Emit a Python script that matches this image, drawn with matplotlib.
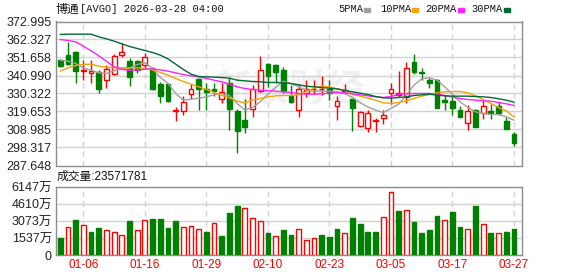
import matplotlib.pyplot as plt
import numpy as np
import pandas as pd
from matplotlib.patches import Rectangle

plt.rcParams['font.family'] = ['Liberation Sans', 'Noto Sans CJK SC']

# trading days 2025-12-31 .. 2026-03-27 (US market holidays removed)
days = pd.bdate_range('2025-12-31', '2026-03-27')
days = days.drop(pd.to_datetime(['2026-01-01', '2026-01-19', '2026-02-16']))
date_labels = [d.strftime('%m-%d') for d in days]
shown_dates = ['01-06', '01-16', '01-29', '02-10', '02-23', '03-05', '03-17', '03-27']

opens = [350.1, 353.05, 354.8, 343.8, 342.2, 342.8, 338.6, 341.6, 353.4, 349.5, 349.3, 347.5,
         345.1, 335.9, 335.9, 320.0, 320.0, 330.1, 338.8, 332.7, 332.7, 326.8, 336.7, 319.9,
         314.5, 320.9, 331.7, 347.7, 347.1, 344.2, 328.7, 320.4, 330.7, 332.7, 332.9, 332.7,
         323.2, 331.7, 326.8, 311.2, 309.6, 314.1, 315.9, 330.7, 329.3, 328.0, 348.7, 343.0,
         338.2, 338.2, 326.4, 325.8, 320.4, 313.1, 320.4, 318.5, 320.0, 322.8, 313.9, 306.6]
highs = [350.7, 360.95, 355.4, 350.1, 350.1, 344.2, 347.5, 354.0, 360.0, 351.5, 350.1, 354.6,
         346.1, 337.2, 336.7, 322.4, 328.7, 335.9, 339.8, 336.7, 336.3, 336.7, 339.8, 320.9,
         326.8, 335.3, 352.5, 348.5, 348.1, 346.1, 335.3, 335.9, 338.2, 338.6, 340.6, 338.6,
         328.7, 335.7, 327.0, 319.7, 320.4, 315.9, 320.4, 336.7, 343.6, 349.1, 353.6, 345.7,
         339.8, 338.8, 329.3, 328.0, 322.8, 323.4, 321.4, 326.4, 324.0, 325.4, 316.5, 307.6]
lows = [346.1, 347.1, 336.7, 338.2, 336.3, 330.9, 333.7, 341.2, 351.7, 334.9, 342.2, 345.1,
        332.3, 324.8, 325.2, 314.1, 317.5, 327.0, 320.4, 320.4, 328.7, 324.4, 308.6, 295.2,
        307.0, 316.5, 331.3, 334.3, 336.3, 330.7, 324.8, 316.5, 328.0, 329.9, 329.3, 326.4,
        314.9, 329.9, 308.2, 310.2, 307.6, 307.6, 312.0, 324.0, 328.0, 324.4, 341.6, 338.6,
        333.3, 321.6, 320.4, 317.5, 316.1, 308.6, 310.2, 315.1, 315.3, 317.5, 309.2, 299.1]
closes = [346.7, 348.1, 343.8, 344.2, 343.6, 333.1, 345.1, 352.5, 354.8, 340.2, 344.2, 351.7,
          332.9, 328.8, 325.8, 320.4, 325.0, 332.7, 333.0, 331.5, 331.7, 331.1, 320.9, 308.2,
          310.6, 332.7, 344.2, 340.8, 343.2, 331.7, 325.4, 332.7, 333.0, 333.2, 333.1, 330.7,
          325.8, 332.1, 321.8, 319.5, 318.5, 314.5, 317.5, 332.7, 330.7, 345.7, 343.2, 342.2,
          336.7, 322.0, 325.4, 321.8, 316.5, 319.9, 310.6, 322.8, 318.7, 318.9, 309.4, 301.1]
# volume in 万 shares
volume = [1530, 2490, 3150, 2670, 2100, 2430, 2220, 2070, 1770, 3060, 2220, 3120,
          3240, 3240, 2430, 3060, 2490, 2580, 2310, 2070, 2850, 1710, 3780, 4410,
          4290, 3300, 3030, 1980, 1680, 2250, 1800, 2310, 1350, 1530, 1800, 1620,
          2340, 1980, 3330, 2790, 2070, 2070, 3480, 5730, 3960, 4110, 2970, 1980,
          2250, 3510, 3120, 3870, 2520, 2310, 4410, 2760, 1980, 1980, 2070, 2357]

ma5 = [350.08, 349.49, 348.11, 345.54, 344.16, 342.58, 342.18, 343.76, 345.34, 345.34, 347.51, 348.50,
       345.14, 339.81, 336.45, 330.33, 326.38, 326.97, 327.56, 328.35, 329.54, 330.33, 329.14, 324.40,
       320.65, 322.03, 325.39, 329.93, 333.88, 337.64, 336.25, 334.28, 332.30, 331.71, 331.71, 331.71,
       331.31, 330.33, 327.96, 324.80, 322.42, 320.45, 319.07, 321.44, 324.00, 329.34, 335.27, 339.02,
       339.61, 338.23, 334.28, 329.93, 325.39, 322.03, 319.46, 318.47, 317.88, 317.88, 316.50, 314.52]
ma10 = [343.56, 345.54, 346.92, 347.51, 347.71, 346.53, 345.93, 345.54, 345.54, 345.54, 345.54, 345.14,
        344.35, 342.77, 341.19, 339.22, 337.44, 335.86, 334.28, 332.70, 330.92, 329.34, 327.76, 325.78,
        324.80, 326.38, 327.36, 328.35, 328.94, 329.14, 329.14, 329.54, 331.31, 333.49, 334.67, 334.28,
        333.09, 332.10, 329.93, 328.75, 327.56, 326.38, 324.80, 324.40, 324.99, 325.98, 327.36, 328.75,
        329.73, 330.72, 331.31, 331.51, 331.51, 330.72, 328.94, 326.77, 324.40, 322.03, 320.05, 316.50]
ma20 = [362.33, 361.74, 360.95, 358.38, 355.61, 352.65, 349.49, 346.13, 344.55, 344.16, 344.16, 344.75,
        344.95, 344.35, 343.56, 342.58, 341.59, 340.80, 340.20, 339.22, 338.23, 337.24, 335.86, 334.28,
        333.29, 332.70, 332.30, 331.91, 331.71, 331.31, 330.92, 330.33, 329.93, 329.93, 330.13, 330.52,
        330.92, 330.72, 330.13, 329.54, 328.94, 328.35, 327.96, 328.55, 329.73, 330.13, 330.33, 330.33,
        330.33, 329.93, 329.14, 328.15, 327.36, 326.77, 326.38, 325.98, 325.78, 324.99, 324.20, 323.21]
ma30 = [365.29, 365.49, 365.49, 365.49, 365.49, 363.91, 362.73, 361.34, 359.76, 358.18, 357.00, 355.81,
        354.63, 353.05, 350.87, 347.71, 344.55, 341.79, 340.40, 340.20, 340.01, 339.81, 339.41, 338.23,
        337.83, 337.44, 337.24, 336.85, 336.85, 336.65, 336.25, 335.46, 334.67, 334.28, 333.88, 333.49,
        333.09, 332.10, 331.31, 330.52, 329.73, 328.55, 327.76, 327.56, 327.96, 328.35, 329.14, 329.54,
        329.93, 329.34, 328.94, 328.75, 328.75, 328.75, 328.55, 328.35, 327.96, 327.17, 326.38, 325.19]

price_ticks = ['287.648', '298.317', '308.985', '319.653', '330.322', '340.990', '351.658', '362.327', '372.995']
vol_ticks = ['0', '1537万', '3073万', '4610万', '6147万']
last_volume = 23571781

RED = '#ff0000'
GREEN = '#008000'
FRAME = '#8c8c8c'
GRID = '#d2d2d2'
ma_colors = ['#a0a0a0', '#f5a300', '#ff22ff', '#006a35']

W, H = 578, 276
fig = plt.figure(figsize=(W / 100, H / 100), dpi=100)
ax = fig.add_axes([56 / W, 1 - 165.5 / H, 466 / W, 144 / H])
axv = fig.add_axes([56 / W, 1 - 255 / H, 466 / W, 68 / H])

x = np.arange(len(closes))
o = np.array(opens)
c = np.array(closes)
up = c > o
tick_pos = [date_labels.index(d) for d in shown_dates]

for a in (ax, axv):
    a.set_xlim(-0.56, 60.05)
    for s in a.spines.values():
        s.set_color(FRAME)
        s.set_linewidth(1)
    for p in tick_pos:
        a.axvline(p, color=GRID, lw=1, ls=(0, (4, 3)), zorder=0)
    a.tick_params(length=0, labelsize=9, labelcolor='#222222', pad=3)

# watermark
ax.text(0.50, 0.52, '新浪财经', transform=ax.transAxes, fontsize=27, color='#f0f0f0',
        ha='center', va='center', fontweight='bold', zorder=0)

# price panel
ax.set_ylim(287.648, 372.995)
yt = np.linspace(287.648, 372.995, 9)
ax.set_yticks(yt)
ax.set_yticklabels(price_ticks)
for v in yt[1:-1]:
    ax.axhline(v, color=GRID, lw=1, zorder=0)
ax.set_xticks(tick_pos)
ax.set_xticklabels([])

for ma, col in zip([ma5, ma10, ma20, ma30], ma_colors):
    ax.plot(x, ma, color=col, lw=1, zorder=4)

cols = np.where(up, RED, GREEN)
ax.vlines(x, lows, highs, colors=cols, lw=1, zorder=2)
body = np.maximum(np.abs(c - o), 0.12)
ax.bar(x, body, bottom=np.minimum(o, c), width=0.62,
       color=np.where(up, 'white', GREEN), edgecolor=cols, lw=1, zorder=3)

# volume panel
axv.set_ylim(0, 6147)
vt = np.linspace(0, 6147, 5)
axv.set_yticks(vt)
axv.set_yticklabels(vol_ticks)
for v in vt[1:-1]:
    axv.axhline(v, color=GRID, lw=1, zorder=0)
vol_up = np.r_[False, c[1:] > c[:-1]]
vcols = np.where(vol_up, RED, GREEN)
axv.bar(x, volume, width=0.62, color=np.where(vol_up, 'white', GREEN),
        edgecolor=vcols, lw=1, zorder=3)
axv.set_xticks(tick_pos)
axv.set_xticklabels(shown_dates, color=RED, fontsize=8.5)

# header and legend
fig.text(56 / W, 1 - 9.5 / H, '博通', family='Noto Sans CJK SC', fontsize=8.5,
         va='center', color='#111111')
fig.text(80 / W, 1 - 9.5 / H, '[AVGO] 2026-03-28 04:00', family='Liberation Mono',
         fontsize=7.5, va='center', color='#111111')
leg_x = [338, 380, 425, 471]
sq_x = [364.5, 412, 458, 504]
for name, lx, sx, col in zip(['5PMA', '10PMA', '20PMA', '30PMA'], leg_x, sq_x, ma_colors):
    fig.text(lx / W, 1 - 9.5 / H, name, family='Liberation Mono', fontsize=7.5,
             va='center', color='#111111')
    fig.add_artist(Rectangle((sx / W, 1 - 11.5 / H), 6 / W, 4 / H,
                             transform=fig.transFigure, color=col))

fig.text(57 / W, 1 - 177 / H, f'成交量:{last_volume}', fontsize=8.5, va='center', color='#111111')

fig.savefig('out.png', dpi=100)
